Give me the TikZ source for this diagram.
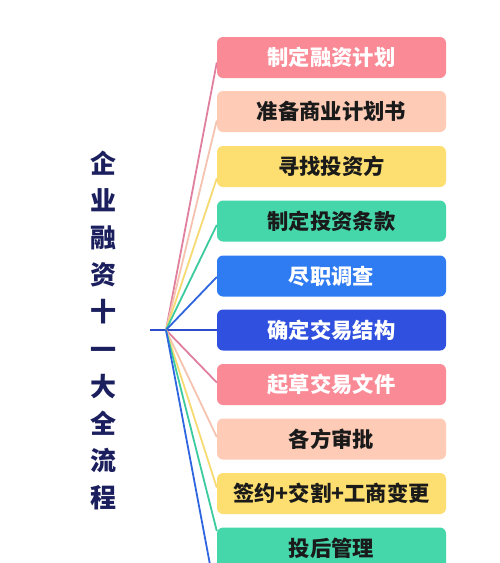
\documentclass[tikz,border=0pt]{standalone}
\usepackage{fontspec}
\newfontfamily\cjk{Noto Sans CJK SC}[BoldFont={Noto Sans CJK SC Black}]
\definecolor{bpink}{HTML}{FA8A96}
\definecolor{bpeach}{HTML}{FDCBB6}
\definecolor{byellow}{HTML}{FDDE70}
\definecolor{bgreen}{HTML}{45D6AA}
\definecolor{bblue}{HTML}{2F7BF2}
\definecolor{bdblue}{HTML}{3050DF}
\definecolor{lpink}{HTML}{E0809E}
\definecolor{lpeach}{HTML}{F5C3B0}
\definecolor{lyellow}{HTML}{F7DA72}
\definecolor{lgreen}{HTML}{3CCB9E}
\definecolor{lblue}{HTML}{2F66E0}
\definecolor{ldblue}{HTML}{2E4BC9}
\definecolor{navy}{HTML}{1B1F5E}
\definecolor{txtdark}{HTML}{1A1A1A}
\tikzset{
  stepbox/.style={rounded corners=6pt, minimum width=229pt, minimum height=41pt,
    inner sep=0pt, font=\cjk\bfseries\fontsize{21.3}{24}\selectfont},
  wtxt/.style={text=white},
  dtxt/.style={text=txtdark},
  conn/.style={line width=1.8pt}
}
\begin{document}
\begin{tikzpicture}[x=1pt,y=-1pt]
\useasboundingbox (0,0) rectangle (500,563);
\clip (0,0) rectangle (500,563);
\fill[white] (0,0) rectangle (500,563);
% title
\node[text=navy, font=\cjk\bfseries\fontsize{26}{37.2}\selectfont, align=center, inner sep=0pt] (title) at (103,330.5)
  {企\\业\\融\\资\\十\\一\\大\\全\\流\\程};
% boxes
\node[stepbox, fill=bpink, wtxt]   (b1)  at (331.5,57.5)  {制定融资计划};
\node[stepbox, fill=bpeach, dtxt]  (b2)  at (331.5,111.5) {准备商业计划书};
\node[stepbox, fill=byellow, dtxt] (b3)  at (331.5,166.5) {寻找投资方};
\node[stepbox, fill=bgreen, dtxt]  (b4)  at (331.5,221)   {制定投资条款};
\node[stepbox, fill=bblue, wtxt]   (b5)  at (331.5,276)   {尽职调查};
\node[stepbox, fill=bdblue, wtxt]  (b6)  at (331.5,330)   {确定交易结构};
\node[stepbox, fill=bpink, wtxt]   (b7)  at (331.5,384.5) {起草交易文件};
\node[stepbox, fill=bpeach, dtxt]  (b8)  at (331.5,439)   {各方审批};
\node[stepbox, fill=byellow, dtxt] (b9)  at (331.5,493.5) {签约+交割+工商变更};
\node[stepbox, fill=bgreen, dtxt]  (b10) at (331.5,548)   {投后管理};
\coordinate (b11) at (217,602);
% hub
\coordinate (hub) at (166,330);
\coordinate (stub) at (150,330);
\draw[conn, ldblue] (stub) -- (hub);
\draw[conn, lpink]   (hub) -- ([yshift=-5pt]b1.west);
\draw[conn, lpeach]  (hub) -- ([yshift=-9pt]b2.west);
\draw[conn, lyellow] (hub) -- ([yshift=-12pt]b3.west);
\draw[conn, lgreen]  (hub) -- ([yshift=-4pt]b4.west);
\draw[conn, lblue]   (hub) -- ([yshift=-1pt]b5.west);
\draw[conn, ldblue]  (hub) -- (b6.west);
\draw[conn, lpink]   (hub) -- ([yshift=2pt]b7.west);
\draw[conn, lpeach]  (hub) -- ([yshift=2pt]b8.west);
\draw[conn, lyellow] (hub) -- ([yshift=6pt]b9.west);
\draw[conn, lgreen]  (hub) -- ([yshift=17pt]b10.west);
\draw[conn, lblue]   (hub) -- (b11);
\end{tikzpicture}
\end{document}
